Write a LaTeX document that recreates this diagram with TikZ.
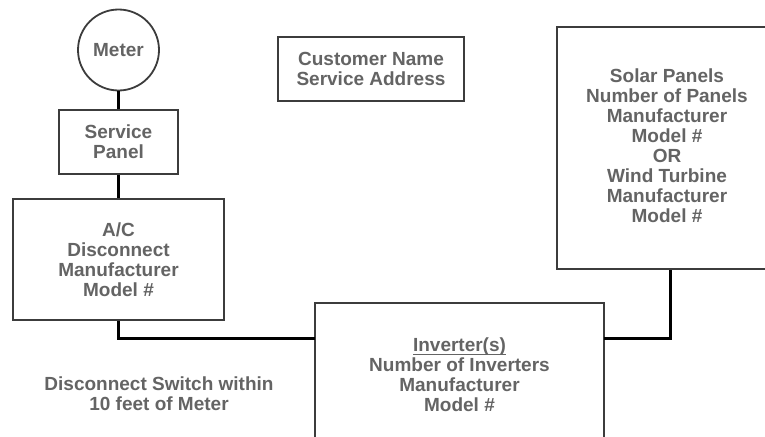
\documentclass[tikz,border=0pt]{standalone}
\usepackage{fontspec}
\setmainfont{Liberation Sans}
\definecolor{txtgray}{RGB}{100,100,100}
\definecolor{boxgray}{RGB}{60,60,60}
\newlength\myulw
\newcommand\myul[1]{\settowidth\myulw{#1}\rlap{\rule[-3.5pt]{\myulw}{1.5pt}}#1}
\begin{document}
\begin{tikzpicture}[x=1pt,y=-1pt,
  lbl/.style={inner sep=0pt, align=center, text=txtgray, font=\bfseries\fontsize{19}{20}\selectfont},
  box/.style={lbl, draw=boxgray, line width=1.8pt, fill=white},
  wire/.style={draw=black, line width=3pt}]
\useasboundingbox (0,0) rectangle (765,436);
\clip (0,0) rectangle (765,436);
\node[box, circle, minimum size=81pt] (meter) at (118.5,50) {Meter};
\node[box, minimum width=119pt, minimum height=64pt] (panel) at (118.5,142) {Service\\Panel};
\node[box, minimum width=211pt, minimum height=121pt] (ac) at (118.5,259.5) {A/C\\Disconnect\\Manufacturer\\Model \#};
\node[box, minimum width=186pt, minimum height=64pt] (cust) at (371,69) {Customer Name\\Service Address};
\node[box, minimum width=226pt, minimum height=242pt] (solar) at (670,148) {\hspace*{-6pt}\begin{tabular}{@{}c@{}}Solar Panels\\Number of Panels\\Manufacturer\\Model \#\\OR\\Wind Turbine\\Manufacturer\\Model \#\end{tabular}};
\node[box, minimum width=289pt, minimum height=144pt] (inv) at (459.5,375) {\myul{Inverter(s)}\\Number of Inverters\\Manufacturer\\Model \#};
\node[lbl] (note) at (159,394) {Disconnect Switch within\\10 feet of Meter};
\coordinate (j1) at (315,338);
\coordinate (j2) at (604,338);
\draw[wire] (meter.south) -- (panel.north);
\draw[wire] (panel.south) -- (ac.north);
\draw[wire] (ac.south) |- (j1);
\draw[wire] (j2) -| (solar.south);
\end{tikzpicture}
\end{document}
